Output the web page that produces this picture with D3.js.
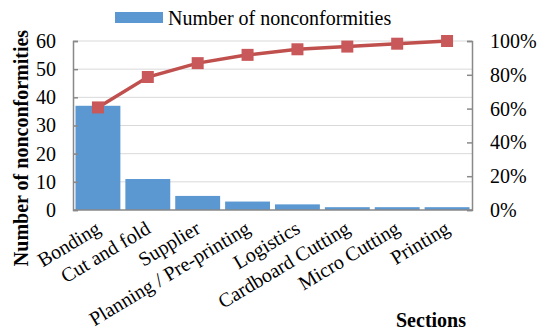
<!DOCTYPE html>
<html>
<head>
<meta charset="utf-8">
<script src="https://cdn.jsdelivr.net/npm/d3@7"></script>
<style>
  body { margin: 0; background: #fff; }
  text { font-family: "Liberation Serif", "Times New Roman", serif; }
</style>
</head>
<body>
<div id="chart"></div>
<script>
// data
const sections = ['Bonding', 'Cut and fold', 'Supplier', 'Planning / Pre-printing', 'Logistics', 'Cardboard Cutting', 'Micro Cutting', 'Printing'];
const nonconformities = [37, 11, 5, 3, 2, 1, 1, 1];
const cumulativePct = [60.7, 78.7, 86.9, 91.8, 95.1, 96.7, 98.4, 100];
const leftTicks = [0, 10, 20, 30, 40, 50, 60];
const rightTicks = [0, 20, 40, 60, 80, 100];

const W = 537, H = 331;
const margin = {top: 41, right: 65, bottom: 121, left: 73},
    width = W - margin.left - margin.right,
    height = H - margin.top - margin.bottom;

const svg = d3.select('#chart').append('svg')
    .attr('width', W).attr('height', H);
const g = svg.append('g').attr('transform', `translate(${margin.left},${margin.top})`);

const x = d3.scaleBand().domain(sections).range([0, width]).paddingInner(0.1).paddingOuter(0.05);
const y = d3.scaleLinear().domain([0, 60]).range([height, 0]);
const y2 = d3.scaleLinear().domain([0, 100]).range([height, 0]);

// gridlines
g.selectAll('.grid').data(leftTicks.slice(1))
    .enter().append('line')
    .attr('x1', 0).attr('x2', width)
    .attr('y1', d => y(d)).attr('y2', d => y(d))
    .attr('stroke', '#d9d9d9').attr('stroke-width', 1);

// bars
g.selectAll('.bar').data(nonconformities)
    .enter().append('rect')
    .attr('x', (d, i) => x(sections[i]))
    .attr('y', d => y(d))
    .attr('width', x.bandwidth())
    .attr('height', d => height - y(d))
    .attr('fill', '#5B98D2');

// left axis
const yAxis = g.append('g')
    .call(d3.axisLeft(y).tickValues(leftTicks).tickSize(-5).tickPadding(17));
// right axis
const y2Axis = g.append('g')
    .attr('transform', `translate(${width},0)`)
    .call(d3.axisRight(y2).tickValues(rightTicks).tickFormat(d => d + '%').tickSize(-5).tickPadding(18));
[yAxis, y2Axis].forEach(a => {
    a.select('.domain').attr('stroke', '#898989').attr('stroke-width', 1.5);
    a.selectAll('.tick line').attr('stroke', '#898989').attr('stroke-width', 1.5);
    a.selectAll('text').attr('font-size', 20).attr('fill', '#000')
        .style('font-family', '"Liberation Serif", serif');
});

// bottom axis line
g.append('line')
    .attr('x1', 0).attr('x2', width)
    .attr('y1', height).attr('y2', height)
    .attr('stroke', '#898989').attr('stroke-width', 1.5);

// category labels
g.selectAll('.cat').data(sections)
    .enter().append('text')
    .attr('transform', d => `translate(${x(d) + x.bandwidth() / 2 + 4},${height + 22}) rotate(-31)`)
    .attr('text-anchor', 'end')
    .attr('font-size', 20)
    .text(d => d);

// cumulative line
const line = d3.line()
    .x((d, i) => x(sections[i]) + x.bandwidth() / 2)
    .y(d => y2(d));
g.append('path').datum(cumulativePct)
    .attr('d', line)
    .attr('fill', 'none')
    .attr('stroke', '#C0504D')
    .attr('stroke-width', 3.5);
g.selectAll('.mk').data(cumulativePct)
    .enter().append('rect')
    .attr('x', (d, i) => x(sections[i]) + x.bandwidth() / 2 - 6)
    .attr('y', d => y2(d) - 6)
    .attr('width', 12).attr('height', 12)
    .attr('fill', '#C9585A');

// axis titles
svg.append('text')
    .attr('transform', `translate(28,148) rotate(-90)`)
    .attr('text-anchor', 'middle')
    .attr('font-size', 20).attr('font-weight', 'bold')
    .text('Number of nonconformities');
svg.append('text')
    .attr('x', 466).attr('y', 327)
    .attr('text-anchor', 'end')
    .attr('font-size', 20).attr('font-weight', 'bold')
    .text('Sections');

// legend
svg.append('rect')
    .attr('x', 115).attr('y', 12).attr('width', 48).attr('height', 11)
    .attr('fill', '#5B98D2');
svg.append('text')
    .attr('x', 168).attr('y', 25)
    .attr('font-size', 20)
    .text('Number of nonconformities');
</script>
</body>
</html>
